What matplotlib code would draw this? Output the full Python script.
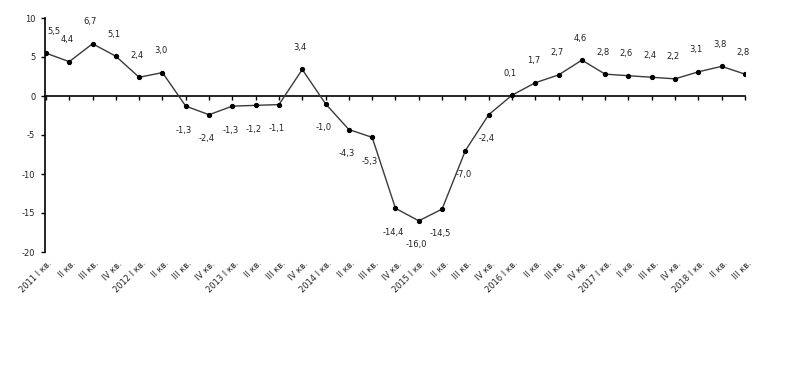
import matplotlib
matplotlib.use("Agg")
import matplotlib.pyplot as plt
import matplotlib.transforms as mtransforms

plt.rcParams['axes.unicode_minus'] = False
plt.rcParams['font.family'] = ['DejaVu Sans']

categories = ["2011 I кв.", "II кв.", "III кв.", "IV кв.",
              "2012 I кв.", "II кв.", "III кв.", "IV кв.",
              "2013 I кв.", "II кв.", "III кв.", "IV кв.",
              "2014 I кв.", "II кв.", "III кв.", "IV кв.",
              "2015 I кв.", "II кв.", "III кв.", "IV кв.",
              "2016 I кв.", "II кв.", "III кв.", "IV кв.",
              "2017 I кв.", "II кв.", "III кв.", "IV кв.",
              "2018 I кв.", "II кв.", "III кв."]
values = [5.5, 4.4, 6.7, 5.1, 2.4, 3.0, -1.3, -2.4, -1.3, -1.2, -1.1, 3.4,
          -1.0, -4.3, -5.3, -14.4, -16.0, -14.5, -7.0, -2.4, 0.1, 1.7, 2.7,
          4.6, 2.8, 2.6, 2.4, 2.2, 3.1, 3.8, 2.8]
y_ticks = [10, 5, 0, -5, -10, -15, -20]

fig = plt.figure(figsize=(7.92, 3.92), dpi=100)
ax = fig.add_axes([45/792, 1 - 252/392, (745 - 45)/792, 234/392])

x = list(range(len(values)))
ax.plot(x, values, color='#3a3a3a', linewidth=1.0, marker='o', markersize=2.8,
        markerfacecolor='black', markeredgecolor='black', zorder=3)

ax.set_xlim(-0.04, 30)
ax.set_ylim(-20, 10)
ax.set_yticks(y_ticks)
ax.set_yticklabels([str(v) for v in y_ticks], fontsize=6, color='#222222')
ax.tick_params(axis='y', direction='out', length=3, width=1, pad=4)

for s in ['top', 'right']:
    ax.spines[s].set_visible(False)
ax.spines['bottom'].set_position(('data', 0))
ax.spines['left'].set_linewidth(1.2)
ax.spines['bottom'].set_linewidth(1.2)
ax.set_xticks(x)
ax.set_xticklabels([])
ax.tick_params(axis='x', direction='out', length=3, width=1)

trans = mtransforms.blended_transform_factory(ax.transData, ax.transAxes)
for xi, lab in zip(x, categories):
    ax.text(xi + 0.08, -0.03, lab, transform=trans, rotation=45,
            rotation_mode='anchor', ha='right', va='top', fontsize=6,
            color='#222222')

for xi, v in zip(x, values):
    lab = f"{v:.1f}".replace('.', ',')
    dy = 22 if v >= 0 else -24
    dx = 8 if xi == 0 else -2
    ax.annotate(lab, (xi, v), xytext=(dx, dy), textcoords='offset pixels',
                ha='center', va='center', fontsize=6, color='#222222')

fig.savefig("out.png", dpi=100)
